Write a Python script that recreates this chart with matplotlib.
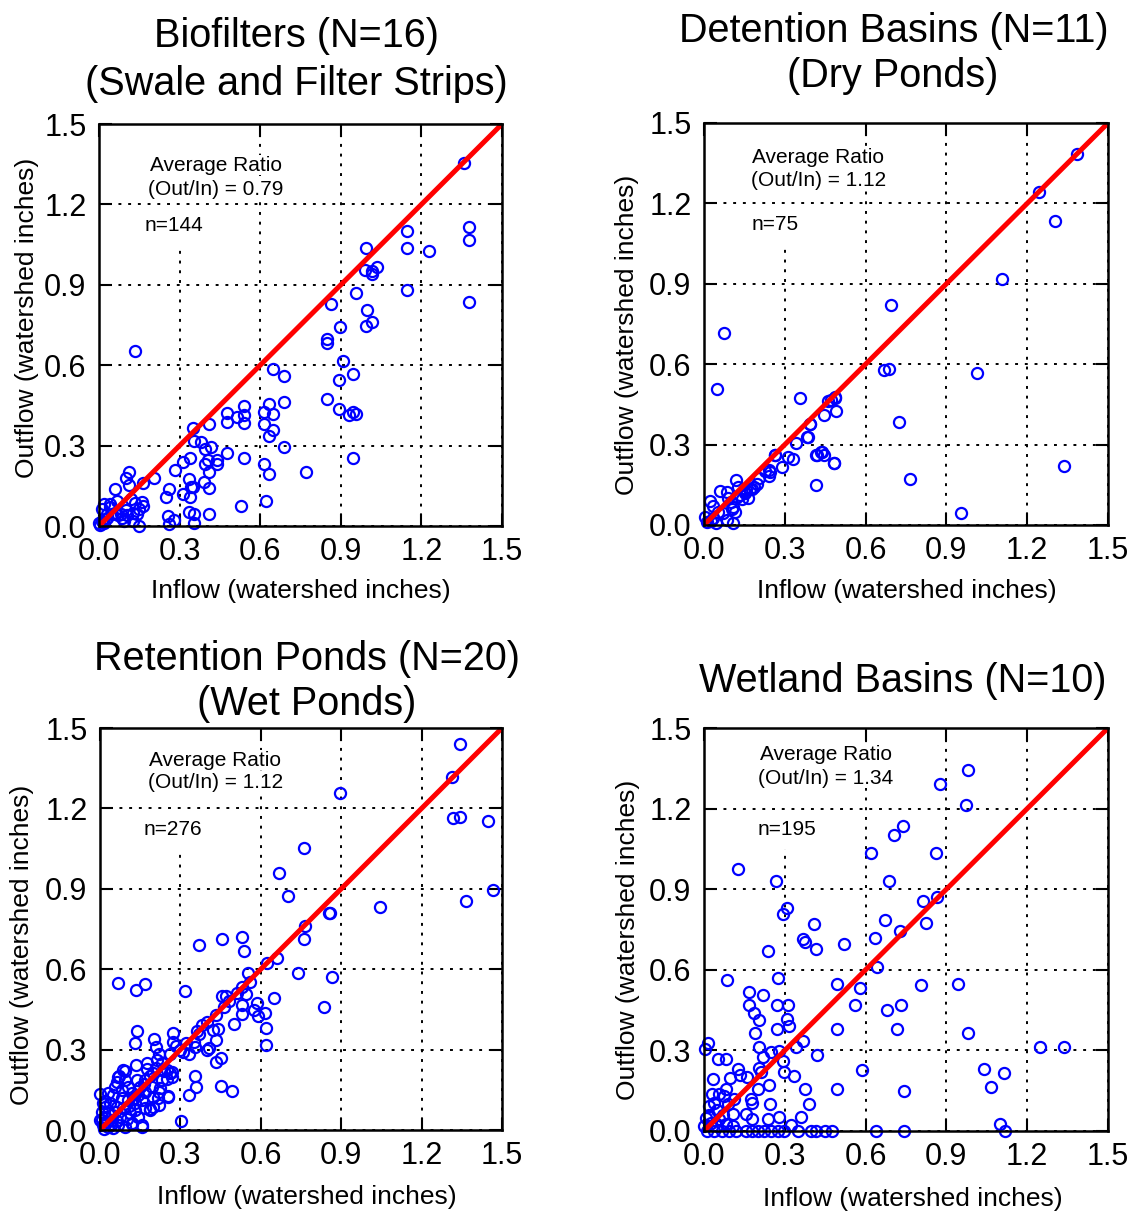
import numpy as np
import matplotlib
matplotlib.use("Agg")
import matplotlib.pyplot as plt
from matplotlib.patches import Rectangle

plt.rcParams["font.family"] = ["Liberation Sans", "DejaVu Sans"]

W, H = 1138, 1211

# Biofilters (Swale and Filter Strips): (inflow, outflow)
bio_pts = [
    (1.357, 1.353), (1.376, 1.114), (1.376, 1.069), (1.148, 1.099), (1.148, 1.039),
    (1.23, 1.025), (0.993, 1.039), (0.99, 0.956), (1.015, 0.952), (1.036, 0.965),
    (1.015, 0.94), (1.148, 0.881), (1.376, 0.837), (0.955, 0.869), (0.865, 0.83),
    (0.996, 0.805), (1.015, 0.763), (0.993, 0.747), (0.896, 0.741), (0.85, 0.697),
    (0.85, 0.681), (0.909, 0.616), (0.894, 0.546), (0.946, 0.566), (0.85, 0.473),
    (0.894, 0.436), (0.93, 0.413), (0.946, 0.426), (0.956, 0.417), (0.946, 0.255),
    (0.769, 0.203), (0.133, 0.654), (0.647, 0.585), (0.687, 0.56), (0.687, 0.463),
    (0.632, 0.454), (0.647, 0.417), (0.616, 0.426), (0.616, 0.38), (0.647, 0.357),
    (0.632, 0.336), (0.687, 0.293), (0.616, 0.233), (0.632, 0.193), (0.62, 0.093),
    (0.538, 0.448), (0.538, 0.413), (0.538, 0.386), (0.476, 0.421), (0.476, 0.388),
    (0.514, 0.405), (0.411, 0.38), (0.349, 0.365), (0.352, 0.317), (0.38, 0.314),
    (0.396, 0.286), (0.417, 0.293), (0.477, 0.271), (0.538, 0.253), (0.405, 0.246),
    (0.44, 0.246), (0.44, 0.23), (0.396, 0.23), (0.411, 0.203), (0.34, 0.255),
    (0.311, 0.24), (0.284, 0.209), (0.203, 0.18), (0.164, 0.159), (0.112, 0.203),
    (0.102, 0.18), (0.112, 0.152), (0.059, 0.137), (0.336, 0.174), (0.342, 0.146),
    (0.351, 0.146), (0.392, 0.164), (0.411, 0.143), (0.259, 0.139), (0.249, 0.11),
    (0.311, 0.118), (0.339, 0.11), (0.529, 0.075), (0.411, 0.046), (0.336, 0.054),
    (0.352, 0.046), (0.355, 0.012), (0.255, 0.037), (0.28, 0.021), (0.262, 0.009),
    (0.133, 0.087), (0.164, 0.075), (0.149, 0.062), (0.143, 0.044), (0.125, 0.05),
    (0.106, 0.04), (0.087, 0.031), (0.093, 0.019), (0.128, 0.019), (0.149, 0.0),
    (0.068, 0.093), (0.041, 0.083), (0.019, 0.081), (0.012, 0.062), (0.031, 0.046),
    (0.0, 0.012), (0.05, 0.044), (0.081, 0.046), (0.005, 0.005), (0.01, 0.02),
    (0.02, 0.01), (0.03, 0.03), (0.06, 0.05), (0.04, 0.07), (0.1, 0.06),
    (0.12, 0.1), (0.16, 0.09), (0.07, 0.04),
]

# Detention Basins (Dry Ponds)
det_pts = [
    (1.385, 1.385), (1.242, 1.243), (1.304, 1.136), (1.107, 0.918), (0.693, 0.822),
    (0.075, 0.716), (0.05, 0.508), (0.668, 0.579), (0.687, 0.583), (1.012, 0.567),
    (0.358, 0.473), (0.47, 0.467), (0.486, 0.476), (0.491, 0.426), (0.447, 0.411),
    (0.395, 0.376), (0.385, 0.33), (0.342, 0.305), (0.724, 0.386), (1.337, 0.222),
    (0.765, 0.172), (0.954, 0.046), (0.416, 0.149), (0.414, 0.262), (0.438, 0.274),
    (0.447, 0.262), (0.484, 0.23), (0.311, 0.253), (0.329, 0.247), (0.289, 0.218),
    (0.265, 0.262), (0.246, 0.199), (0.24, 0.181), (0.196, 0.152), (0.184, 0.143),
    (0.171, 0.134), (0.165, 0.1), (0.147, 0.125), (0.132, 0.112), (0.119, 0.168),
    (0.06, 0.127), (0.084, 0.122), (0.022, 0.09), (0.109, 0.068), (0.115, 0.05),
    (0.103, 0.06), (0.004, 0.031), (0.045, 0.006), (0.084, 0.019), (0.106, 0.009),
    (0.053, 0.05), (0.035, 0.025), (0.122, 0.105), (0.14, 0.098), (0.152, 0.118),
    (0.177, 0.136), (0.24, 0.204), (0.264, 0.26), (0.382, 0.328), (0.394, 0.378),
    (0.419, 0.26), (0.434, 0.273), (0.481, 0.233), (0.462, 0.462), (0.487, 0.475),
    (0.128, 0.14), (0.1, 0.085), (0.07, 0.045), (0.035, 0.07), (0.01, 0.01),
    (0.205, 0.175), (0.225, 0.2), (0.155, 0.13), (0.09, 0.1), (0.025, 0.015),
]

# Retention Ponds (Wet Ponds)
ret_pts = [
    (1.344, 1.442), (1.313, 1.316), (0.897, 1.256), (1.319, 1.166), (1.344, 1.169),
    (1.446, 1.152), (0.763, 1.052), (0.667, 0.958), (0.702, 0.875), (1.468, 0.897),
    (1.366, 0.856), (1.046, 0.831), (0.853, 0.809), (0.86, 0.809), (0.764, 0.763),
    (0.763, 0.713), (0.53, 0.722), (0.456, 0.711), (0.539, 0.667), (0.369, 0.691),
    (0.624, 0.622), (0.661, 0.642), (0.739, 0.585), (0.866, 0.57), (0.835, 0.458),
    (0.068, 0.548), (0.135, 0.523), (0.168, 0.545), (0.316, 0.518), (0.553, 0.586),
    (0.561, 0.552), (0.53, 0.533), (0.543, 0.508), (0.456, 0.499), (0.462, 0.458),
    (0.53, 0.465), (0.53, 0.434), (0.584, 0.475), (0.574, 0.446), (0.615, 0.436),
    (0.589, 0.427), (0.651, 0.492), (0.62, 0.381), (0.62, 0.318), (0.499, 0.396),
    (0.434, 0.43), (0.398, 0.402), (0.441, 0.378), (0.42, 0.372), (0.434, 0.334),
    (0.406, 0.306), (0.4, 0.3), (0.453, 0.27), (0.431, 0.253), (0.353, 0.309),
    (0.332, 0.284), (0.363, 0.371), (0.272, 0.363), (0.272, 0.33), (0.26, 0.285),
    (0.283, 0.315), (0.201, 0.34), (0.139, 0.368), (0.13, 0.324), (0.21, 0.309),
    (0.22, 0.284), (0.214, 0.26), (0.135, 0.241), (0.176, 0.229), (0.24, 0.222),
    (0.27, 0.216), (0.25, 0.19), (0.353, 0.2), (0.359, 0.16), (0.332, 0.129),
    (0.453, 0.166), (0.493, 0.144), (0.301, 0.034), (0.253, 0.127), (0.22, 0.14),
    (0.22, 0.092), (0.185, 0.08), (0.158, 0.017), (0.12, 0.024), (0.092, 0.222),
    (0.07, 0.2), (0.0, 0.135), (0.068, 0.199), (0.062, 0.18), (0.093, 0.187),
    (0.106, 0.162), (0.081, 0.149), (0.056, 0.162), (0.118, 0.137), (0.143, 0.131),
    (0.168, 0.143), (0.193, 0.162), (0.224, 0.155), (0.23, 0.187), (0.255, 0.124),
    (0.199, 0.087), (0.218, 0.118), (0.155, 0.112), (0.131, 0.1), (0.106, 0.112),
    (0.081, 0.118), (0.05, 0.131), (0.031, 0.137), (0.037, 0.1), (0.019, 0.087),
    (0.031, 0.062), (0.056, 0.068), (0.075, 0.05), (0.087, 0.081), (0.112, 0.062),
    (0.118, 0.025), (0.155, 0.012), (0.143, 0.05), (0.168, 0.081), (0.187, 0.075),
    (0.0, 0.037), (0.012, 0.019), (0.031, 0.012), (0.05, 0.006), (0.068, 0.019),
    (0.093, 0.012), (0.087, 0.224), (0.249, 0.224), (0.261, 0.211), (0.267, 0.199),
    (0.006, 0.037), (0.019, 0.05), (0.006, 0.068), (0.044, 0.037), (0.062, 0.087),
    (0.131, 0.075), (0.199, 0.124), (0.168, 0.187), (0.137, 0.187), (0.199, 0.211),
    (0.174, 0.249), (0.3, 0.3), (0.31, 0.29), (0.37, 0.36), (0.38, 0.39),
    (0.48, 0.48), (0.51, 0.51), (0.47, 0.5), (0.35, 0.33), (0.32, 0.325),
    (0.015, 0.005), (0.025, 0.03), (0.04, 0.02), (0.01, 0.1), (0.02, 0.11),
    (0.045, 0.055), (0.065, 0.035), (0.1, 0.04), (0.11, 0.09), (0.125, 0.12),
    (0.15, 0.16), (0.165, 0.17), (0.185, 0.2), (0.21, 0.23), (0.23, 0.25),
]

# Wetland Basins
wet_pts = [
    (0.981, 1.345), (0.876, 1.292), (0.971, 1.214), (0.739, 1.137), (0.704, 1.103),
    (0.619, 1.034), (0.86, 1.034), (0.687, 0.929), (0.128, 0.975), (0.267, 0.929),
    (0.307, 0.829), (0.294, 0.807), (0.407, 0.77), (0.366, 0.714), (0.376, 0.702),
    (0.414, 0.677), (0.518, 0.696), (0.236, 0.671), (0.814, 0.855), (0.866, 0.87),
    (0.824, 0.774), (0.673, 0.785), (0.727, 0.743), (0.636, 0.72), (0.644, 0.612),
    (0.087, 0.563), (0.273, 0.569), (0.168, 0.519), (0.22, 0.506), (0.168, 0.468),
    (0.271, 0.468), (0.311, 0.468), (0.186, 0.439), (0.205, 0.414), (0.307, 0.416),
    (0.317, 0.391), (0.271, 0.379), (0.19, 0.364), (0.494, 0.549), (0.578, 0.534),
    (0.561, 0.468), (0.681, 0.451), (0.733, 0.468), (0.494, 0.379), (0.718, 0.379),
    (0.807, 0.543), (0.942, 0.547), (0.981, 0.364), (1.246, 0.313), (1.338, 0.313),
    (1.04, 0.23), (1.114, 0.215), (1.066, 0.165), (1.099, 0.025), (1.118, 0.0),
    (0.742, 0.149), (0.64, 0.0), (0.742, 0.0), (0.588, 0.227), (0.494, 0.155),
    (0.42, 0.282), (0.375, 0.155), (0.391, 0.102), (0.36, 0.053), (0.369, 0.335),
    (0.342, 0.314), (0.335, 0.205), (0.296, 0.221), (0.292, 0.261), (0.015, 0.327),
    (0.004, 0.304), (0.052, 0.267), (0.081, 0.267), (0.034, 0.193), (0.205, 0.311),
    (0.22, 0.276), (0.248, 0.294), (0.279, 0.298), (0.128, 0.23), (0.133, 0.207),
    (0.096, 0.199), (0.081, 0.158), (0.199, 0.155), (0.24, 0.171), (0.205, 0.236),
    (0.174, 0.118), (0.18, 0.103), (0.245, 0.102), (0.155, 0.062), (0.18, 0.043),
    (0.236, 0.043), (0.28, 0.053), (0.323, 0.021), (0.106, 0.062), (0.031, 0.137),
    (0.056, 0.137), (0.075, 0.13), (0.019, 0.093), (0.037, 0.105), (0.05, 0.08),
    (0.006, 0.05), (0.025, 0.031), (0.056, 0.043), (0.081, 0.025), (0.106, 0.019),
    (0.012, 0.0), (0.037, 0.0), (0.068, 0.0), (0.093, 0.0), (0.118, 0.0),
    (0.155, 0.0), (0.18, 0.0), (0.199, 0.0), (0.224, 0.0), (0.249, 0.0),
    (0.273, 0.0), (0.298, 0.0), (0.348, 0.0), (0.398, 0.0), (0.416, 0.0),
    (0.45, 0.0), (0.475, 0.0), (0.05, 0.02), (0.07, 0.06), (0.09, 0.1),
    (0.11, 0.12), (0.16, 0.2), (0.21, 0.22), (0.0, 0.02), (0.02, 0.06),
]

titles = [
    ["Biofilters (N=16)", "(Swale and Filter Strips)"],
    ["Detention Basins (N=11)", "(Dry Ponds)"],
    ["Retention Ponds (N=20)", "(Wet Ponds)"],
    ["Wetland Basins (N=10)"],
]
ratios = ["0.79", "1.12", "1.12", "1.34"]
counts = ["144", "75", "276", "195"]
ticks = [0.0, 0.3, 0.6, 0.9, 1.2, 1.5]
tick_labels = ["0.0", "0.3", "0.6", "0.9", "1.2", "1.5"]

# layout (pixels): axes box left, top, right, bottom
boxes = [(99, 124, 502, 526), (704, 123, 1108, 525),
         (100, 728, 502, 1130), (704, 728, 1108, 1131)]
title_pos = [[(296, 47), (296, 95)], [(894, 42), (893, 87)],
             [(307, 670), (307, 715)], [(903, 692)]]
ylabel_pos = [(27, 318), (627, 335), (22, 945), (628, 940)]
xlabel_pos = [(301, 591), (907, 591), (307, 1197), (913, 1199)]
# annotation positions in data coords: (x center, y line1, y line2, n x, n y)
ann_pos = [(0.435, 1.347, 1.257, 0.171, 1.123), (0.424, 1.373, 1.284, 0.178, 1.12),
           (0.43, 1.38, 1.295, 0.164, 1.123), (0.453, 1.403, 1.313, 0.2, 1.123)]

fig = plt.figure(figsize=(W / 100, H / 100), dpi=100)
txt_box = dict(facecolor="white", edgecolor="none", pad=0.5)

for i, pts in enumerate([bio_pts, det_pts, ret_pts, wet_pts]):
    l, t, r, b = boxes[i]
    ax = fig.add_axes([l / W, 1 - b / H, (r - l) / W, (b - t) / H])
    inflow = np.array([p[0] for p in pts])
    outflow = np.array([p[1] for p in pts])
    ax.plot(inflow, outflow, "o", mfc="none", mec="blue", ms=8, mew=1.6,
            clip_on=False, zorder=3)
    ax.axline((0, 0), slope=1, color="red", lw=3.6, zorder=4)
    ax.set_xlim(0, 1.5)
    ax.set_ylim(0, 1.5)
    ax.set_xticks(ticks, tick_labels)
    ax.set_yticks(ticks, tick_labels)
    ax.grid(True, color="black", linestyle=(0, (1.5, 3.5)), lw=1.4)
    ax.tick_params(direction="in", length=9, width=1.5, top=True, right=True,
                   labelsize=22, pad=8)
    ax.tick_params(axis="y", pad=9)
    for s in ax.spines.values():
        s.set_linewidth(1.8)
        s.set_zorder(5)
    ax.set_axisbelow(True)
    # text panel hides the vertical grid lines, horizontal ones stay on top
    ax.xaxis.set_zorder(0.5)
    ax.yaxis.set_zorder(1.5)
    ax.add_patch(Rectangle((0.08, 1.05), 0.42, 0.45, facecolor="white",
                           edgecolor="none", zorder=1))

    xc, y1, y2, nx, ny = ann_pos[i]
    ax.text(xc, y1, "Average Ratio", ha="center", va="center", fontsize=15,
            zorder=2, bbox=txt_box)
    ax.text(xc, y2, "(Out/In) = " + ratios[i], ha="center", va="center",
            fontsize=15, zorder=2, bbox=txt_box)
    ax.text(nx, ny, "n=" + counts[i], ha="left", va="center", fontsize=15,
            zorder=2, bbox=txt_box)

    for line, (tx, ty) in zip(titles[i], title_pos[i]):
        fig.text(tx / W, 1 - ty / H, line, ha="center", va="baseline", fontsize=28.5)
    yx, yy = ylabel_pos[i]
    fig.text(yx / W, 1 - yy / H, "Outflow (watershed inches)", rotation=90,
             ha="center", va="center", fontsize=19)
    xx, xy = xlabel_pos[i]
    fig.text(xx / W, 1 - xy / H, "Inflow (watershed inches)",
             ha="center", va="center", fontsize=19)

fig.savefig("out.png", dpi=100)
